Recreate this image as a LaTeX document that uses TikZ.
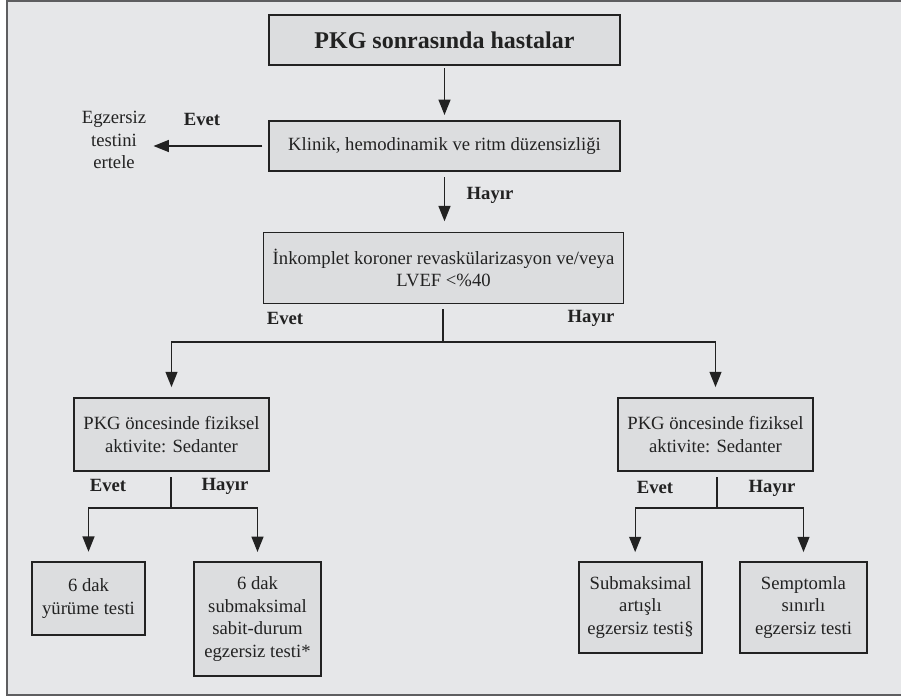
\documentclass[tikz,border=0pt]{standalone}
\usepackage{fontspec}
\setmainfont{Liberation Serif}
\usetikzlibrary{positioning, arrows.meta, calc}
\definecolor{GrayBg}{HTML}{E6E7E9}
\definecolor{GrayBox}{HTML}{DCDDDF}
\definecolor{GrayFrame}{HTML}{5E5E60}
\definecolor{InkA}{HTML}{222222}
\tikzset{
  box/.style={draw=InkA, fill=GrayBox, line width=1.1pt, align=center, inner sep=0pt, text=InkA, font=\fontsize{14}{16.9}\selectfont},
  plain/.style={align=center, text=InkA, font=\fontsize{14}{16.9}\selectfont},
  lbl/.style={text=InkA, font=\fontsize{14}{16.9}\selectfont\bfseries},
  arr/.style={-{Triangle[length=11.5pt, width=9pt]}, line width=1pt, draw=InkA},
  ln/.style={line width=1pt, draw=InkA}
}

\begin{document}
\begin{tikzpicture}[x=0.75pt, y=-0.75pt]
  \useasboundingbox (0,0) rectangle (901,697);
  \filldraw[fill=GrayBg, draw=GrayFrame, line width=1.6pt] (7,1) rectangle (912,695);

  % decision chain
  \node[box, minimum width=263pt, minimum height=37.5pt, font=\fontsize{18}{22}\selectfont\bfseries] (start) at (444.5,40) {PKG sonrasında hastalar};
  \node[box, minimum width=263pt, minimum height=37.5pt] (klinik) at (444.5,146) {Klinik, hemodinamik ve ritm düzensizliği};
  \node[plain] (ertele) at (114,140) {Egzersiz\\testini\\ertele};
  \node[box, minimum width=270pt, minimum height=53pt] (ink) at (443.5,268) {İnkomplet koroner revaskülarizasyon ve/veya\\LVEF <\%40};

  \node[box, minimum width=146pt, minimum height=55pt] (sedL) at (171.5,434.5) {PKG öncesinde fiziksel\\aktivite: Sedanter};
  \node[box, minimum width=146pt, minimum height=55pt] (sedR) at (715.5,434.5) {PKG öncesinde fiziksel\\aktivite: Sedanter};

  % tests
  \node[box, minimum width=85pt, minimum height=55pt] (yurume) at (88.5,598.5) {6 dak\\yürüme testi};
  \node[box, minimum width=95pt, minimum height=85.5pt] (sabit) at (257.5,619) {6 dak\\submaksimal\\sabit-durum\\egzersiz testi*};
  \node[box, minimum width=92pt, minimum height=68pt] (artisli) at (640.5,607.5) {Submaksimal\\artışlı\\egzersiz testi§};
  \node[box, minimum width=95pt, minimum height=68pt] (semptom) at (803.5,607.5) {Semptomla\\sınırlı\\egzersiz testi};

  \coordinate (inkSplit) at (443,342);
  \coordinate (sedLSplit) at (171,508);
  \coordinate (sedRSplit) at (717,508);

  \draw[arr, shorten <=2pt, shorten >=4pt] (start) -- (klinik);
  \draw[arr, shorten <=4.5pt, shorten >=2pt] (klinik.west) -- (klinik.west -| ertele.east);
  \draw[arr, shorten <=4pt, shorten >=8pt] (klinik) -- (klinik |- ink.north);

  \draw[ln, shorten <=4pt] (ink.south -| inkSplit) -- (inkSplit);
  \draw[arr, shorten >=7.5pt] (inkSplit) -| (sedL);
  \draw[arr, shorten >=7.5pt] (inkSplit) -| (sedR);

  \draw[ln, shorten <=4pt] (sedL.south -| sedLSplit) -- (sedLSplit);
  \draw[arr, shorten >=7pt] (sedLSplit) -| (yurume);
  \draw[arr, shorten >=7pt] (sedLSplit) -| (sabit);

  \draw[ln, shorten <=4pt] (sedR.south -| sedRSplit) -- (sedRSplit);
  \draw[arr, shorten >=7pt] (sedRSplit) -| ([xshift=-4pt]artisli.north);
  \draw[arr, shorten >=7pt] (sedRSplit) -| (semptom);

  % branch labels
  \node[lbl] (evetA) at (202,119) {Evet};
  \node[lbl] (hayirA) at (490,195) {Hayır};
  \node[lbl] (evetB) at (285,318) {Evet};
  \node[lbl] (hayirB) at (591,318) {Hayır};
  \node[lbl] (evetC) at (108,485) {Evet};
  \node[lbl] (hayirC) at (225,486) {Hayır};
  \node[lbl] (evetD) at (655,487) {Evet};
  \node[lbl] (hayirD) at (772,488) {Hayır};
\end{tikzpicture}
\end{document}
